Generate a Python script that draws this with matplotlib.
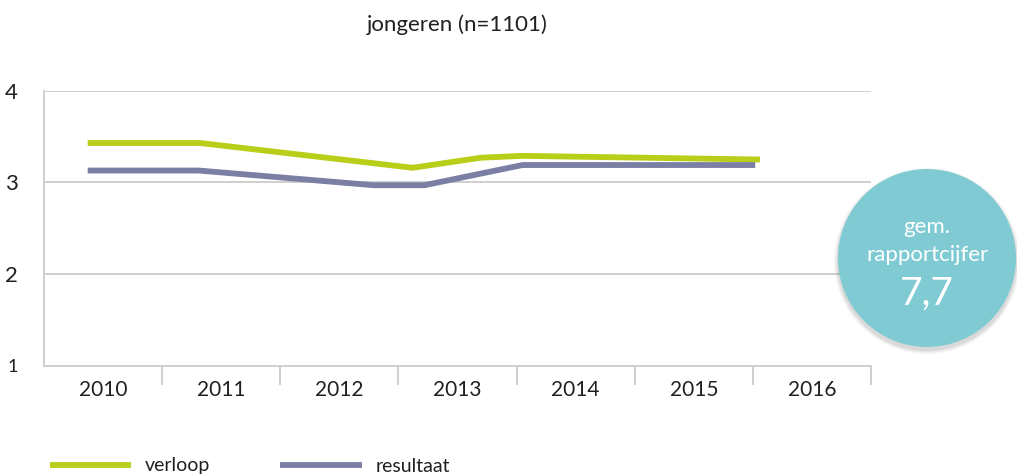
import matplotlib.pyplot as plt
from matplotlib.patches import Circle

plt.rcParams['font.family'] = ['Lato', 'DejaVu Sans']

# data (x as decimal year, category 2010 spans 2010..2011)
years = ['2010', '2011', '2012', '2013', '2014', '2015', '2016']
verloop_x = [2010.37, 2011.32, 2013.12, 2013.70, 2014.05, 2016.06]
verloop_y = [3.43, 3.43, 3.16, 3.27, 3.29, 3.25]
resultaat_x = [2010.37, 2011.31, 2012.79, 2013.22, 2014.05, 2016.02]
resultaat_y = [3.13, 3.13, 2.97, 2.97, 3.19, 3.19]
rapportcijfer = '7,7'

green = '#b9ce19'
purple = '#7b7fa3'
grey = '#cccccc'
text_col = '#231f20'

fig = plt.figure(figsize=(10.17, 4.74), dpi=100)
ax = fig.add_axes([44 / 1017, 108 / 474, 827 / 1017, 275.3 / 474])

ax.plot(verloop_x, verloop_y, color=green, lw=4.2, solid_joinstyle='miter',
        solid_capstyle='butt', label='verloop', zorder=3)
ax.plot(resultaat_x, resultaat_y, color=purple, lw=4.2, solid_joinstyle='miter',
        solid_capstyle='butt', label='resultaat', zorder=3)

ax.set_xlim(2010, 2017)
ax.set_ylim(1, 4)

for v in [2, 3, 4]:
    ax.axhline(v, color=grey, lw=1.3, zorder=1)

for s in ['top', 'right']:
    ax.spines[s].set_visible(False)
for s in ['left', 'bottom']:
    ax.spines[s].set_color(grey)
    ax.spines[s].set_linewidth(1.3)

ax.set_yticks([1, 2, 3, 4])
ax.set_yticklabels(['1', '2', '3', '4'], fontsize=16, color=text_col)
ax.get_yticklabels()[0].set_fontsize(13)
ax.tick_params(axis='y', length=0, pad=19)

ax.set_xticks(range(2011, 2018))
ax.set_xticklabels([])
ax.set_xticks([2010.5 + i for i in range(len(years))], minor=True)
ax.set_xticklabels(years, minor=True, fontsize=15, color=text_col)
ax.tick_params(axis='x', which='major', length=14, color=grey, width=1.3)
ax.tick_params(axis='x', which='minor', length=0, pad=10)

fig.text(457 / 1017, 1 - 25 / 474, 'jongeren (n=1101)', ha='center', va='center',
         fontsize=16, color=text_col)

fig.legend(loc='lower left', bbox_to_anchor=(32 / 1017, -18 / 474), ncol=2, frameon=False,
           fontsize=14, handlelength=4.2, handletextpad=0.7, columnspacing=3.6,
           labelcolor=text_col)

# badge with the average score
ov = fig.add_axes([0, 0, 1, 1])
ov.set_xlim(0, 1017)
ov.set_ylim(474, 0)
ov.axis('off')
cx, cy, r = 927, 258, 89
for i, a in enumerate([0.03, 0.03, 0.04, 0.05]):
    ov.add_patch(Circle((cx, cy + 3), r + 4 - i, color='#000000', alpha=a, lw=0))
ov.add_patch(Circle((cx, cy), r, color='#80cbd3', lw=0))
ov.text(cx, 227, 'gem.', ha='center', va='center', fontsize=16, color='white')
ov.text(cx, 255, 'rapportcijfer', ha='center', va='center', fontsize=16, color='white')
ov.text(cx, 294, rapportcijfer, ha='center', va='center', fontsize=28, color='white')

fig.savefig('out.png', dpi=100)
